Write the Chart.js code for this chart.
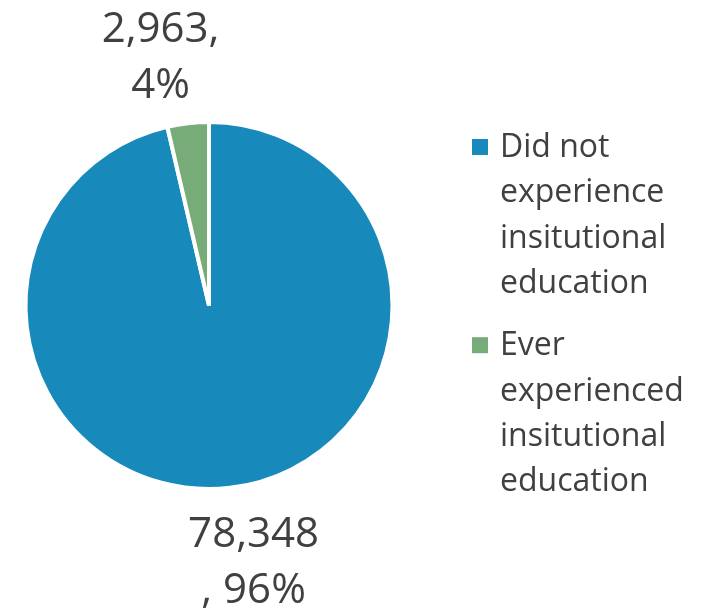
<!DOCTYPE html>
<html>
<head>
<meta charset="utf-8">
<script src="https://cdn.jsdelivr.net/npm/chart.js@4.4.0/dist/chart.umd.min.js"></script>
<style>
  html, body { margin: 0; padding: 0; background: #fff; }
  #wrap { width: 715px; height: 612px; }
</style>
</head>
<body>
<div id="wrap"><canvas id="pieEducation" width="715" height="612"></canvas></div>
<script>
var categories = ['Did not experience insitutional education', 'Ever experienced insitutional education'];
var counts = [78348, 2963];
var colors = ['#1789BA', '#77AC79'];
// where the label text wraps: 'before' puts the comma on the second line
var labelBreak = ['before', 'after'];

var textColor = '#404040';
var fontFace = '"Open Sans", "Liberation Sans", sans-serif';

var total = counts.reduce(function(a, b) { return a + b; }, 0);

function labelLines(i) {
    var num = counts[i].toLocaleString('en-US');
    var pct = Math.round(counts[i] / total * 100) + '%';
    if (labelBreak[i] === 'before') return [num, ', ' + pct];
    return [num + ',', pct];
}

function wrapWords(ctx, text, maxW) {
    var words = text.split(' ');
    var lines = [];
    var cur = '';
    words.forEach(function(w) {
        var test = cur ? cur + ' ' + w : w;
        if (cur && ctx.measureText(test).width > maxW) {
            lines.push(cur);
            cur = w;
        } else {
            cur = test;
        }
    });
    if (cur) lines.push(cur);
    return lines;
}

// value labels outside each slice
var sliceLabels = {
    id: 'sliceLabels',
    afterDraw: function(chart) {
        var ctx = chart.ctx;
        var arcs = chart.getDatasetMeta(0).data;
        // label block centre, as distance from pie centre along the slice mid angle, plus a sideways nudge
        var dist = [259, 249];
        var nudge = [15, -20];
        ctx.save();
        ctx.font = '42px ' + fontFace;
        ctx.fillStyle = textColor;
        ctx.textAlign = 'center';
        ctx.textBaseline = 'middle';
        arcs.forEach(function(arc, i) {
            var mid = (arc.startAngle + arc.endAngle) / 2;
            var cx = arc.x + Math.cos(mid) * dist[i] + nudge[i];
            var cy = arc.y + Math.sin(mid) * dist[i];
            var lines = labelLines(i);
            var lh = 56;
            lines.forEach(function(line, k) {
                ctx.fillText(line, cx, cy + (k - (lines.length - 1) / 2) * lh);
            });
        });
        ctx.restore();
    }
};

// legend on the right with wrapped entries
var sideLegend = {
    id: 'sideLegend',
    afterDraw: function(chart) {
        var ctx = chart.ctx;
        var x = 472, textX = 500, y = 157, lh = 45.3;
        ctx.save();
        ctx.font = '32px ' + fontFace;
        ctx.textBaseline = 'alphabetic';
        ctx.textAlign = 'left';
        categories.forEach(function(cat, i) {
            var lines = wrapWords(ctx, cat, 200);
            ctx.fillStyle = colors[i];
            ctx.fillRect(x, y - 18, 16, 16);
            ctx.fillStyle = textColor;
            lines.forEach(function(line, k) {
                ctx.fillText(line, textX, y + k * lh);
            });
            y += lines.length * lh + 17;
        });
        ctx.restore();
    }
};

var ctxP = document.getElementById('pieEducation').getContext('2d');
var myPieChart = new Chart(ctxP, {
    type: 'pie',
    data: {
        labels: categories,
        datasets: [{
            data: counts,
            backgroundColor: colors,
            borderColor: '#ffffff',
            borderWidth: 4
        }]
    },
    options: {
        responsive: false,
        animation: false,
        radius: 183.5,
        layout: {
            padding: { left: 23.5, top: 120.5, right: 320.5, bottom: 121.5 }
        },
        plugins: {
            legend: { display: false },
            tooltip: { enabled: false }
        }
    },
    plugins: [sliceLabels, sideLegend]
});
</script>
</body>
</html>
